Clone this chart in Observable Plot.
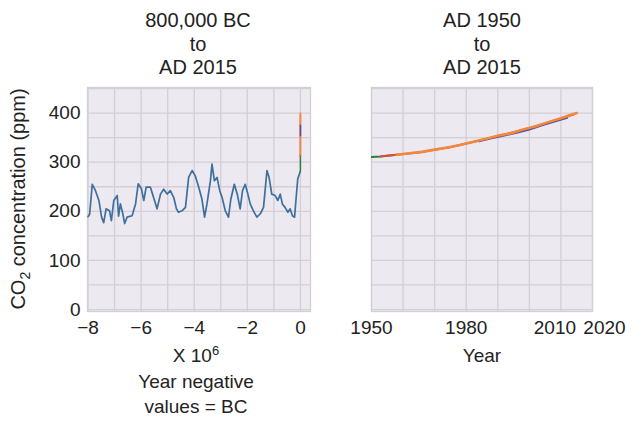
<!DOCTYPE html>
<html><head><meta charset="utf-8">
<script src="https://cdn.jsdelivr.net/npm/d3@7"></script>
<script src="https://cdn.jsdelivr.net/npm/@observablehq/plot@0.6"></script>
<style>
body{margin:0;background:#fff;}
#wrap{position:relative;width:634px;height:426px;font-family:"Liberation Sans",Arial,Helvetica,sans-serif;color:#222;overflow:hidden;}
#wrap svg{position:absolute;top:0;}
</style></head><body>
<div id="wrap"></div>
<script>
// ---- data ----
// ice-core record, x in units of 10^5 years (negative = BC)
const paleoX = [-8.00,-7.94,-7.84,-7.72,-7.59,-7.49,-7.41,-7.32,-7.19,-7.12,-7.03,-6.90,-6.85,-6.78,-6.69,-6.62,-6.53,-6.34,-6.21,-6.11,-5.99,-5.90,-5.81,-5.65,-5.53,-5.40,-5.27,-5.15,-5.02,-4.90,-4.77,-4.67,-4.59,-4.46,-4.33,-4.21,-4.08,-3.96,-3.83,-3.71,-3.61,-3.52,-3.39,-3.33,-3.24,-3.14,-3.04,-2.95,-2.83,-2.71,-2.62,-2.49,-2.37,-2.27,-2.18,-2.08,-1.98,-1.89,-1.77,-1.64,-1.51,-1.39,-1.26,-1.18,-1.08,-0.95,-0.85,-0.76,-0.68,-0.58,-0.47,-0.39,-0.30,-0.22,-0.16,-0.10,-0.04,-0.01];
const paleoCO2 = [189,194,255,242,222,188,177,205,201,181,222,232,190,215,195,175,188,191,215,256,246,222,249,249,228,205,235,245,235,242,228,205,198,201,208,269,283,272,249,225,188,215,262,296,262,269,242,228,201,188,225,255,233,205,242,255,235,215,201,188,195,208,283,269,235,232,222,235,215,208,198,205,191,188,228,266,276,280];
// recent records (AD years)
const iceYear  = [1000,1800,1850,1900,1930,1950,1953,1958];
const iceCO2   = [280,283,285,296,306,310.5,311.5,315];
const redYear  = [1953,1958,1965,1970,1975,1980,1985,1990,2000,2010,2014];
const redCO2   = [312,315,319.5,325,330.5,338,345,353,369,389,397];
const purpleYear = [1984,1988,1992,1996,2000,2004,2008,2012];
const purpleCO2  = [342.5,348.5,354,360,366.5,375,382.5,390.5];
const orangeYear = [1958,1962,1966,1970,1974,1978,1982,1986,1990,1994,1998,2002,2006,2010,2013,2015];
const orangeCO2  = [315,318,321,325.5,330,335,341,347,354,358.5,366.5,373,381.5,389.5,396,400];
// ticks / text
const leftTicks = [-8,-6,-4,-2,0];
const rightTicks = [1950,1980,2010,2020];
const yTicks = [0,100,200,300,400];
const leftTitle = ["800,000 BC","to","AD 2015"];
const rightTitle = ["AD 1950","to","AD 2015"];

// ---- style ----
const FONT = '"Liberation Sans", Arial, Helvetica, sans-serif';
const BG = "#ECE9F1", GRID = "#D3CED8";
const BLUE = "#3F6F9E", GREEN = "#2F7D3B", RED = "#E24A3B", ORANGE = "#F0893C", PURPLE = "#5A4EA3";
const toBP = y => (y - 1950) / 1e5;
const wrap = document.getElementById("wrap");

const common = {
  height: 426, marginTop: 87, marginBottom: 115,
  style: {fontFamily: FONT, fontSize: "19px", color: "#222", background: "transparent", overflow: "visible"}
};

const left = Plot.plot({
  ...common,
  width: 320, marginLeft: 87, marginRight: 10,
  x: {domain: [-8.02, 0.38]},
  y: {domain: [-4, 452]},
  marks: [
    Plot.frame({fill: BG}),
    Plot.gridX(d3.range(-8, 1, 1), {stroke: GRID, strokeOpacity: 1, strokeWidth: 1.3}),
    Plot.gridY(d3.range(0, 451, 50), {stroke: GRID, strokeOpacity: 1, strokeWidth: 1.3}),
    Plot.frame({stroke: GRID, strokeWidth: 1.3}),
    Plot.line(paleoCO2, {x: paleoX, y: paleoCO2, stroke: BLUE, strokeWidth: 1.7}),
    Plot.line(iceCO2, {x: iceYear.map(toBP), y: iceCO2, stroke: GREEN, strokeWidth: 1.5}),
    Plot.line(redCO2, {x: redYear.map(toBP), y: redCO2, stroke: RED, strokeWidth: 1.5}),
    Plot.line(orangeCO2, {x: orangeYear.map(toBP), y: orangeCO2, stroke: ORANGE, strokeWidth: 1.5}),
    Plot.line(purpleCO2.slice(2,6), {x: purpleYear.slice(2,6).map(toBP), y: purpleCO2.slice(2,6), stroke: PURPLE, strokeWidth: 1.5}),
    Plot.axisX(leftTicks, {tickSize: 0, tickPadding: 9, label: null, fontSize: 19}),
    Plot.axisY(yTicks, {tickSize: 0, tickPadding: 7, label: null, fontSize: 19})
  ]
});
left.style.left = "0px";
wrap.appendChild(left);

const right = Plot.plot({
  ...common,
  width: 304, marginLeft: 41, marginRight: 42,
  x: {domain: [1950, 2020]},
  y: {domain: [-4, 452], axis: null},
  marks: [
    Plot.frame({fill: BG}),
    Plot.gridX(d3.range(1950, 2021, 10), {stroke: GRID, strokeOpacity: 1, strokeWidth: 1.3}),
    Plot.gridY(d3.range(0, 451, 50), {stroke: GRID, strokeOpacity: 1, strokeWidth: 1.3}),
    Plot.frame({stroke: GRID, strokeWidth: 1.3}),
    Plot.line(iceCO2, {x: iceYear, y: iceCO2, stroke: GREEN, strokeWidth: 2, clip: true}),
    Plot.line(redCO2, {x: redYear, y: redCO2, stroke: RED, strokeWidth: 2}),
    Plot.line(purpleCO2, {x: purpleYear, y: purpleCO2, stroke: PURPLE, strokeWidth: 2}),
    Plot.line(orangeCO2, {x: orangeYear, y: orangeCO2, stroke: ORANGE, strokeWidth: 2.6}),
    Plot.axisX(rightTicks.slice(0, 2), {tickSize: 0, tickPadding: 9, label: null, fontSize: 19, tickFormat: d => String(d)}),
    Plot.axisX([rightTicks[2]], {tickSize: 0, tickPadding: 9, label: null, fontSize: 19, dx: -6, tickFormat: d => String(d)}),
    Plot.axisX([rightTicks[3]], {tickSize: 0, tickPadding: 9, label: null, fontSize: 19, dx: 12, tickFormat: d => String(d)})
  ]
});
right.style.left = "330px";
wrap.appendChild(right);

// ---- text overlay ----
const svg = d3.select(wrap).append("svg")
  .attr("width", 634).attr("height", 426)
  .style("left", "0px")
  .attr("font-family", FONT).attr("fill", "#222");

const titleBase = [27, 51, 74];
leftTitle.forEach((t, i) => svg.append("text").attr("x", 198).attr("y", titleBase[i]).attr("text-anchor", "middle").attr("font-size", 20).text(t));
rightTitle.forEach((t, i) => svg.append("text").attr("x", 482).attr("y", titleBase[i]).attr("text-anchor", "middle").attr("font-size", 20).text(t));

const yl = svg.append("text").attr("transform", "translate(25,199) rotate(-90)").attr("text-anchor", "middle").attr("font-size", 20);
yl.append("tspan").text("CO");
yl.append("tspan").attr("font-size", 14).attr("dy", 5).text("2");
yl.append("tspan").attr("dy", -5).text(" concentration (ppm)");

const xl = svg.append("text").attr("x", 196).attr("y", 362).attr("text-anchor", "middle").attr("font-size", 19);
xl.append("tspan").text("X 10");
xl.append("tspan").attr("font-size", 13).attr("dy", -7).text("6");
svg.append("text").attr("x", 196).attr("y", 388).attr("text-anchor", "middle").attr("font-size", 19).text("Year negative");
svg.append("text").attr("x", 196).attr("y", 413).attr("text-anchor", "middle").attr("font-size", 19).text("values = BC");
svg.append("text").attr("x", 482).attr("y", 362).attr("text-anchor", "middle").attr("font-size", 19).text("Year");
</script>
</body></html>
